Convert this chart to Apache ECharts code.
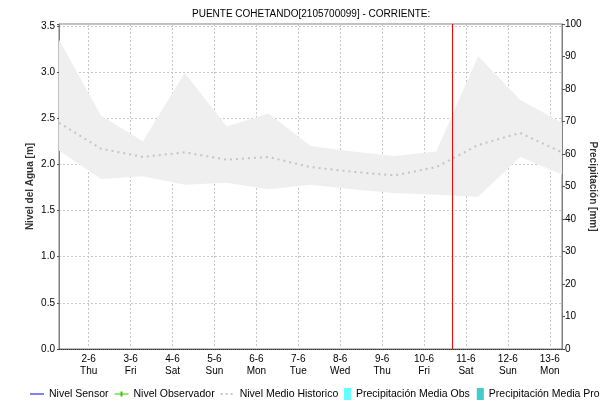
<!DOCTYPE html>
<html>
<head>
<meta charset="utf-8">
<script src="https://cdn.jsdelivr.net/npm/echarts@6/dist/echarts.min.js"></script>
<style>
html,body{margin:0;padding:0;background:#fff;}
#c{width:615px;height:404px;}
</style>
</head>
<body>
<div id="c"></div>
<script>
// ---- data ----
const titleText = 'PUENTE COHETANDO[2105700099] - CORRIENTE:';
const times = [
  '2022-06-01T07:00', '2022-06-02T07:00', '2022-06-03T07:00', '2022-06-04T07:00',
  '2022-06-05T07:00', '2022-06-06T07:00', '2022-06-07T07:00', '2022-06-08T07:00',
  '2022-06-09T07:00', '2022-06-10T07:00', '2022-06-11T07:00', '2022-06-12T07:00',
  '2022-06-13T07:00'
];
const histMax  = [3.35, 2.53, 2.25, 2.99, 2.41, 2.55, 2.20, 2.14, 2.09, 2.14, 3.17, 2.70, 2.45];
const histMin  = [2.15, 1.84, 1.87, 1.78, 1.80, 1.73, 1.78, 1.73, 1.69, 1.67, 1.65, 2.08, 1.89];
const histMean = [2.45, 2.17, 2.08, 2.13, 2.05, 2.08, 1.97, 1.92, 1.88, 1.97, 2.21, 2.34, 2.13];
const nivelSensor = [];
const nivelObservador = [];
const precipObs = [];
const precipPro = [];
const nowTime = '2022-06-10T16:10';
const weekDays = ['Sun', 'Mon', 'Tue', 'Wed', 'Thu', 'Fri', 'Sat'];
const leftTicks = [0, 0.5, 1, 1.5, 2, 2.5, 3, 3.5];

// ---- build ----
const ts = times.map(t => new Date(t).getTime());
const lowData = ts.map((t, i) => [t, histMin[i]]);
const bandData = ts.map((t, i) => [t, +(histMax[i] - histMin[i]).toFixed(3)]);
const meanData = ts.map((t, i) => [t, histMean[i]]);
const nowTs = new Date(nowTime).getTime();
const FONT = 'Liberation Sans';
const ICON_LINE = 'path://M0,0M14,12M0,5.5h14v1h-14z';
const ICON_OBS = 'path://M0,0M14,12M0,5.5h14v1h-14zM6,3.5h2v5h-2z';
const ICON_DOT = 'path://M0,0M14,12M0,5h2v2h-2zM5,5h2v2h-2zM10,5h2v2h-2z';
const GRID_LINE = {color: '#c8c8c8', width: 1, type: [2, 2]};

const chart = echarts.init(document.getElementById('c'), null, {renderer: 'canvas'});
chart.setOption({
  animation: false,
  backgroundColor: '#fff',
  textStyle: {fontFamily: FONT},
  title: {
    text: titleText, left: 192, top: 9, padding: 0,
    textStyle: {fontSize: 10, fontWeight: 'normal', color: '#000', fontFamily: FONT}
  },
  legend: [{
    left: 30, top: 388, padding: 0, itemGap: 6, itemWidth: 14, itemHeight: 12,
    textStyle: {fontSize: 10.5, color: '#000', fontFamily: FONT},
    data: [
      {name: 'Nivel Sensor', icon: ICON_LINE, itemStyle: {color: '#0000ff', borderWidth: 0}},
      {name: 'Nivel Observador', icon: ICON_OBS, itemStyle: {color: '#33cc00', borderWidth: 0}},
      {name: 'Nivel Medio Historico', icon: ICON_DOT, itemStyle: {color: '#c8c8c8', borderWidth: 0}}
    ]
  }, {
    left: 344, top: 388, padding: 0, itemGap: 7, itemWidth: 7, itemHeight: 12,
    textStyle: {fontSize: 10.5, color: '#000', fontFamily: FONT},
    data: [
      {name: 'Precipitación Media Obs', icon: 'rect', itemStyle: {color: '#66ffff', borderWidth: 0}},
      {name: 'Precipitación Media Pro', icon: 'rect', itemStyle: {color: '#44cccc', borderWidth: 0}}
    ]
  }],
  grid: {left: 59, right: 53, top: 24, bottom: 55, show: true, borderColor: '#808080', borderWidth: 1, backgroundColor: 'transparent'},
  xAxis: [{
    type: 'time',
    min: ts[0], max: ts[ts.length - 1],
    minInterval: 86400000, maxInterval: 86400000,
    axisLine: {show: true, lineStyle: {color: '#333', width: 1, type: [1, 1]}},
    axisTick: {show: false},
    splitLine: {show: true, lineStyle: GRID_LINE},
    axisLabel: {
      showMinLabel: false, showMaxLabel: false,
      fontSize: 10, color: '#000', lineHeight: 12, margin: 4, fontFamily: FONT,
      formatter: function (v) {
        const d = new Date(v);
        return d.getDate() + '-' + (d.getMonth() + 1) + '\n' + weekDays[d.getDay()];
      }
    }
  }, {
    type: 'category', data: [], show: false
  }],
  yAxis: [{
    type: 'value', min: 0, max: 3.52, interval: 0.5,
    name: 'Nivel del Agua [m]', nameLocation: 'middle', nameGap: 24, nameMoveOverlap: false,
    nameTextStyle: {fontSize: 10, fontWeight: 'bold', color: '#333', fontFamily: FONT},
    axisLine: {show: true, lineStyle: {color: '#808080'}},
    axisTick: {show: true, length: 2, lineStyle: {color: '#555'}},
    axisLabel: {
      fontSize: 10, color: '#000', margin: 4, fontFamily: FONT,
      formatter: v => leftTicks.some(t => Math.abs(t - v) < 1e-9) ? v.toFixed(1) : ''
    },
    splitLine: {show: true, lineStyle: GRID_LINE}
  }, {
    type: 'value', min: 0, max: 100, interval: 10, position: 'right',
    name: 'Precipitación [mm]', nameLocation: 'middle', nameGap: 26, nameRotate: -90, nameMoveOverlap: false,
    nameTextStyle: {fontSize: 10, fontWeight: 'bold', color: '#333', fontFamily: FONT},
    axisLine: {show: true, lineStyle: {color: '#808080'}},
    axisTick: {show: true, length: 3, lineStyle: {color: '#555'}},
    axisLabel: {fontSize: 10, color: '#000', margin: 3, fontFamily: FONT},
    splitLine: {show: false}
  }],
  series: [{
    name: 'histLow', type: 'line', stack: 'band', data: lowData, symbol: 'none',
    lineStyle: {opacity: 0}, silent: true, z: 1
  }, {
    name: 'histBand', type: 'line', stack: 'band', data: bandData, symbol: 'none',
    lineStyle: {opacity: 0}, areaStyle: {color: '#efefef', opacity: 1}, silent: true, z: 1
  }, {
    name: 'Nivel Medio Historico', type: 'line', data: meanData, symbol: 'none',
    color: '#c4c4c4', lineStyle: {color: '#c4c4c4', width: 2, type: [2, 4]}, z: 3
  }, {
    name: 'Nivel Sensor', type: 'line', data: nivelSensor, symbol: 'none',
    color: '#0000ff', lineStyle: {color: '#0000ff', width: 1}, z: 4,
    markLine: {
      silent: true, symbol: ['none', 'none'], label: {show: false},
      lineStyle: {color: '#ff0000', width: 1, type: 'solid', opacity: 1},
      data: [{xAxis: nowTs, lineStyle: {color: '#ff0000', width: 1, type: 'solid'}}]
    }
  }, {
    name: 'Nivel Observador', type: 'line', data: nivelObservador, symbol: 'rect', symbolSize: 3,
    color: '#33cc00', lineStyle: {color: '#33cc00', width: 1}
  }, {
    name: 'Precipitación Media Obs', type: 'bar', xAxisIndex: 1, yAxisIndex: 1, data: precipObs,
    itemStyle: {color: '#66ffff'}
  }, {
    name: 'Precipitación Media Pro', type: 'bar', xAxisIndex: 1, yAxisIndex: 1, data: precipPro,
    itemStyle: {color: '#44cccc'}
  }]
});
</script>
</body>
</html>
